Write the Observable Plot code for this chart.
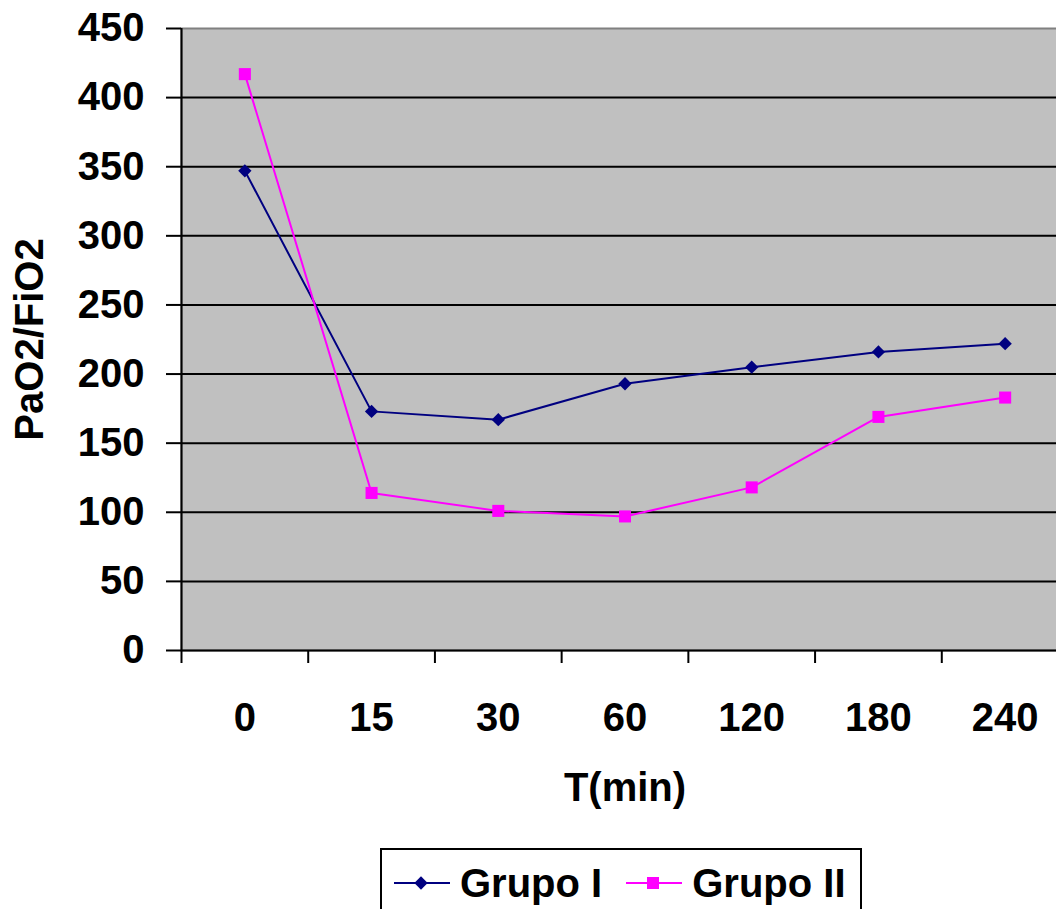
<!DOCTYPE html>
<html>
<head>
<meta charset="utf-8">
<script src="https://cdn.jsdelivr.net/npm/d3@7"></script>
<script src="https://cdn.jsdelivr.net/npm/@observablehq/plot@0.6"></script>
<style>
  html, body { margin: 0; padding: 0; background: #fff; overflow: hidden; width: 1056px; height: 909px; }
  #chart { position: absolute; left: 0; top: 0; }
  #chart svg { max-width: none !important; }
  #legend { position: absolute; left: 380px; top: 848px; width: 482px; height: 72px; border: 2px solid #000; box-sizing: border-box;
    display: flex; align-items: flex-start; padding-top: 10px; padding-left: 12px;
    font-family: "Liberation Sans", Arial, sans-serif; font-weight: bold; font-size: 40px; color: #000; line-height: 46px; }
  #legend .item { display: flex; align-items: center; }
  #legend svg { display: block; margin-right: 10px; }
</style>
</head>
<body>
<div id="chart"></div>
<div id="legend"></div>
<script>
const categories = ["0", "15", "30", "60", "120", "180", "240"];
const grupoI = [347, 173, 167, 193, 205, 216, 222];
const grupoII = [417, 114, 101, 97, 118, 169, 183];
const seriesNames = ["Grupo I", "Grupo II"];
const seriesColors = ["#000080", "#FF00FF"];
const yTicks = [0, 50, 100, 150, 200, 250, 300, 350, 400, 450];
const yLabel = "PaO2/FiO2";
const xLabel = "T(min)";

const idx = categories.map((_, i) => i);
const bounds = categories.map((_, i) => i - 0.5).concat([categories.length - 0.5]);
const dataI = idx.map(i => ({i, v: grupoI[i]}));
const dataII = idx.map(i => ({i, v: grupoII[i]}));
const diamond = d3.symbolDiamond2 || "diamond";

const chart = Plot.plot({
  width: 1068,
  height: 840,
  marginTop: 28,
  marginBottom: 190,
  marginLeft: 181,
  marginRight: 0,
  style: {fontFamily: "'Liberation Sans', Arial, sans-serif", fontSize: "40px", fontWeight: "bold", background: "transparent", color: "#000", maxWidth: "none"},
  x: {type: "linear", domain: [-0.5, categories.length - 0.5], axis: null},
  y: {domain: [0, 450], axis: null},
  marks: [
    Plot.frame({fill: "#C0C0C0", stroke: "#808080", strokeWidth: 2}),
    Plot.ruleY(yTicks.filter(v => v > 0 && v < 450), {stroke: "#000", strokeWidth: 2}),
    Plot.axisY({ticks: yTicks, tickSize: 15, tickPadding: 22, strokeWidth: 2, label: null, fontSize: 40, fontWeight: "bold"}),
    Plot.axisX({ticks: bounds, tickSize: 13, tickFormat: () => "", strokeWidth: 2, label: null}),
    Plot.axisX({ticks: idx, tickSize: 0, tickPadding: 52, tickFormat: i => categories[i], label: null, fontSize: 40, fontWeight: "bold"}),
    Plot.ruleX([-0.5], {stroke: "#000", strokeWidth: 2}),
    Plot.ruleY([0], {stroke: "#000", strokeWidth: 2}),
    Plot.line(dataI, {x: "i", y: "v", stroke: seriesColors[0], strokeWidth: 2}),
    Plot.line(dataII, {x: "i", y: "v", stroke: seriesColors[1], strokeWidth: 2}),
    Plot.dot(dataI, {x: "i", y: "v", symbol: diamond, r: 6, fill: seriesColors[0], stroke: "none"}),
    Plot.dot(dataII, {x: "i", y: "v", symbol: "square", r: 6.8, fill: seriesColors[1], stroke: "none"}),
    Plot.text([yLabel], {frameAnchor: "left", textAnchor: "middle", lineAnchor: "middle", rotate: -90, dx: -151, fontSize: 40, fontWeight: "bold", fill: "#000"}),
    Plot.text([xLabel], {frameAnchor: "bottom", textAnchor: "middle", lineAnchor: "middle", dy: 138, fontSize: 40, fontWeight: "bold", fill: "#000"})
  ]
});
document.getElementById("chart").appendChild(chart);

// Legend
const legend = document.getElementById("legend");
seriesNames.forEach((name, k) => {
  const item = document.createElement("div");
  item.className = "item";
  item.style.marginRight = k === 0 ? "24px" : "0";
  const sw = d3.create("svg").attr("width", 56).attr("height", 46);
  sw.append("line").attr("x1", 0).attr("x2", 56).attr("y1", 23).attr("y2", 23)
    .attr("stroke", seriesColors[k]).attr("stroke-width", 2);
  const sym = k === 0 ? (d3.symbolDiamond2 || d3.symbolDiamond) : d3.symbolSquare;
  const size = k === 0 ? Math.PI * 36 : Math.PI * 6.8 * 6.8;
  sw.append("path").attr("transform", "translate(27,23)").attr("d", d3.symbol(sym, size)())
    .attr("fill", seriesColors[k]);
  item.appendChild(sw.node());
  const t = document.createElement("span");
  t.textContent = name;
  item.appendChild(t);
  legend.appendChild(item);
});
</script>
</body>
</html>
